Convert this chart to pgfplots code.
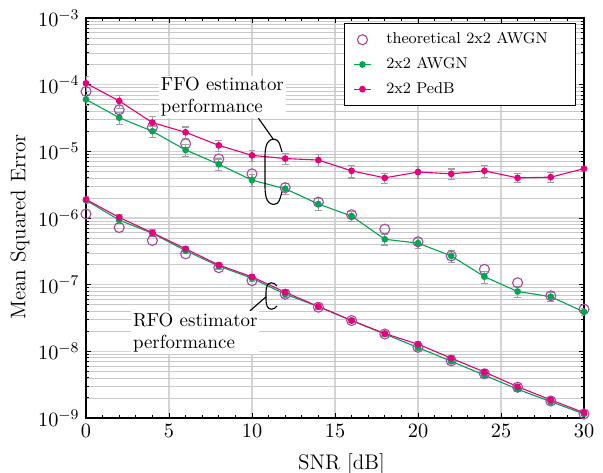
\documentclass[border=0pt]{standalone}
\usepackage{fontspec}
\usepackage{pgfplots}
\pgfplotsset{compat=1.18}
\definecolor{cpink}{RGB}{230,0,126}
\definecolor{cgreen}{RGB}{0,166,80}
\definecolor{cpurp}{RGB}{170,70,160}
\definecolor{cerr}{RGB}{160,160,160}
\begin{document}
\begin{tikzpicture}
\useasboundingbox (-46.44pt,-29.16pt) rectangle (279.18pt,225.72pt);
\begin{axis}[
  scale only axis,
  width=268.92pt, height=216pt,
  at={(0,0)}, anchor=south west,
  xmin=0, xmax=30, ymin=1e-9, ymax=1e-3,
  ymode=log,
  xtick={0,5,...,30},
  minor x tick num=4,
  xmajorgrids, ymajorgrids, yminorgrids,
  major grid style={draw={rgb,255:red,212;green,212;blue,212}, line width=0.7pt},
  minor grid style={draw={rgb,255:red,200;green,200;blue,200}, line width=0.35pt},
  axis line style={black, line width=0.8pt},
  tick style={black, line width=0.5pt},
  major tick length=2.8pt, minor tick length=1.5pt,
  tick align=inside,
  ticklabel style={font=\fontsize{11}{13}\selectfont},
  label style={font=\fontsize{11.4}{13}\selectfont},
  xlabel={SNR [dB]},
  ylabel={Mean Squared Error},
  xlabel style={at={(axis description cs:0.513,-0.115)}, anchor=center},
  ylabel style={at={(axis description cs:-0.1325,0.4775)}, anchor=center, rotate=0},
  legend cell align=left,
  legend style={at={(rel axis cs:0.984,0.9875)}, anchor=north east,
    draw=black, line width=0.5pt, fill=white,
    font=\fontsize{8.5}{10}\selectfont,
    inner xsep=5pt, inner ysep=3pt, row sep=1.8pt,
    nodes={inner sep=2pt},
    /tikz/every odd column/.append style={column sep=6pt}},
  legend image code/.code={\draw[mark repeat=2,mark phase=2,#1] plot coordinates {(0cm,0cm)(0.16cm,0cm)(0.32cm,0cm)};},
  error bars/y dir=both,
  error bars/y explicit relative,
  error bars/error bar style={cerr, line width=0.6pt},
  error bars/error mark options={rotate=90, mark size=1.8pt, cerr, line width=0.6pt},
]
% theoretical 2x2 AWGN (FFO and RFO)
\addplot[only marks, mark=o, mark size=2.7pt, mark options={cpurp, line width=0.6pt}] coordinates {
(0,7.9e-5)(2,4.2e-5)(4,2.3e-5)(6,1.3e-5)(8,7.7e-6)(10,4.6e-6)(12,2.85e-6)(14,1.73e-6)(16,1.12e-6)(18,6.8e-7)(20,4.4e-7)(22,2.7e-7)(24,1.7e-7)(26,1.07e-7)(28,6.8e-8)(30,4.3e-8)
(0,1.15e-6)(2,7.2e-7)(4,4.6e-7)(6,2.9e-7)(8,1.8e-7)(10,1.15e-7)(12,7.2e-8)(14,4.6e-8)(16,2.9e-8)(18,1.82e-8)(20,1.15e-8)(22,7.2e-9)(24,4.6e-9)(26,2.9e-9)(28,1.8e-9)(30,1.15e-9)
};
\addlegendentry{theoretical 2x2 AWGN\rule{8pt}{0pt}}
% 2x2 AWGN FFO
\addplot[cgreen, line width=0.6pt, mark=*, mark size=1.5pt, mark options={cgreen}] table[x index=0, y index=1, y error index=2] {
0 6.0e-5 0.2
2 3.2e-5 0.2
4 2.0e-5 0.2
6 1.05e-5 0.2
8 6.4e-6 0.2
10 3.7e-6 0.2
12 2.75e-6 0.18
14 1.62e-6 0.2
16 1.07e-6 0.18
18 4.8e-7 0.18
20 4.2e-7 0.18
22 2.7e-7 0.2
24 1.32e-7 0.2
26 7.9e-8 0.18
28 6.6e-8 0.16
30 3.9e-8 0.12
};
\addlegendentry{2x2 AWGN}
% 2x2 PedB FFO
\addplot[cpink, line width=0.6pt, mark=*, mark size=1.5pt, mark options={cpink}] table[x index=0, y index=1, y error index=2] {
0 1.05e-4 0.25
2 5.7e-5 0.22
4 2.7e-5 0.22
6 1.93e-5 0.2
8 1.23e-5 0.2
10 8.7e-6 0.2
12 7.8e-6 0.18
14 7.4e-6 0.2
16 5.1e-6 0.22
18 4.0e-6 0.18
20 4.9e-6 0.2
22 4.6e-6 0.18
24 5.1e-6 0.2
26 4.0e-6 0.16
28 4.1e-6 0.18
30 5.5e-6 0.08
};
\addlegendentry{2x2 PedB}
% 2x2 AWGN RFO
\addplot[cgreen, line width=0.6pt, mark=*, mark size=1.5pt, mark options={cgreen}, forget plot] table[x index=0, y index=1, y error index=2] {
0 1.85e-6 0.1
2 9.3e-7 0.12
4 5.9e-7 0.1
6 3.24e-7 0.1
8 1.9e-7 0.1
10 1.25e-7 0.1
12 7.2e-8 0.1
14 4.7e-8 0.08
16 2.9e-8 0.08
18 1.82e-8 0.08
20 1.14e-8 0.08
22 7.1e-9 0.08
24 4.4e-9 0.08
26 2.7e-9 0.08
28 1.76e-9 0.08
30 1.15e-9 0.06
};
% 2x2 PedB RFO
\addplot[cpink, line width=0.6pt, mark=*, mark size=1.5pt, mark options={cpink}, forget plot] table[x index=0, y index=1, y error index=2] {
0 1.9e-6 0.1
2 1.02e-6 0.12
4 6.0e-7 0.1
6 3.45e-7 0.1
8 1.97e-7 0.1
10 1.31e-7 0.1
12 7.7e-8 0.1
14 4.7e-8 0.08
16 2.9e-8 0.08
18 1.85e-8 0.08
20 1.28e-8 0.08
22 7.9e-9 0.08
24 4.9e-9 0.08
26 2.95e-9 0.08
28 1.87e-9 0.08
30 1.2e-9 0.06
};
% annotations
\draw[black, line width=0.6pt] (rel axis cs:0.3460,0.75) -- (rel axis cs:0.3760,0.697);
\draw[black, line width=0.6pt] (rel axis cs:0.3936,0.665) to[out=110,in=0] (rel axis cs:0.3775,0.697) to[out=180,in=90] (rel axis cs:0.3594,0.64) -- (rel axis cs:0.3594,0.585) to[out=-90,in=180] (rel axis cs:0.3775,0.534) to[out=0,in=-110] (rel axis cs:0.3936,0.565);
\draw[black, line width=0.6pt] (rel axis cs:0.3293,0.268) -- (rel axis cs:0.3615,0.303);
\draw[black, line width=0.6pt] (rel axis cs:0.3835,0.330) to[out=130,in=0] (rel axis cs:0.372,0.338) to[out=180,in=90] (rel axis cs:0.3615,0.315) -- (rel axis cs:0.3615,0.295) to[out=-90,in=180] (rel axis cs:0.372,0.272) to[out=0,in=-130] (rel axis cs:0.3835,0.280);
\node[anchor=west, align=left, fill=white, inner sep=1pt, font=\fontsize{10.2}{12}\selectfont] at (rel axis cs:0.146,0.8025) {FFO estimator\\performance};
\node[anchor=west, align=left, fill=white, inner sep=1pt, font=\fontsize{10.2}{12}\selectfont] at (rel axis cs:0.090,0.214) {RFO estimator\\performance};
\end{axis}
\end{tikzpicture}
\end{document}
